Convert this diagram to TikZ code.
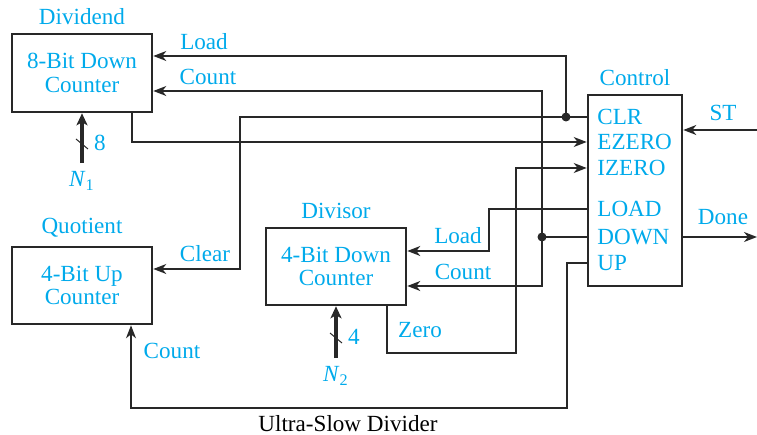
\documentclass[tikz,border=0pt]{standalone}
\usepackage{fontspec}
\setmainfont{Liberation Serif}
\usetikzlibrary{arrows.meta, positioning, calc}
\definecolor{SignalCyan}{RGB}{0,170,235}
\definecolor{WireGray}{RGB}{40,40,40}

\begin{document}
\begin{tikzpicture}[
    x=0.5bp, y=-0.5bp,
    font=\fontsize{11.6}{12}\selectfont,
    block/.style={draw=WireGray, line width=1.3bp, text=SignalCyan, align=center,
        minimum width=70bp, minimum height=39bp, inner sep=0pt},
    sig/.style={text=SignalCyan, inner sep=1bp},
    port/.style={text=SignalCyan, anchor=west, inner sep=0pt},
    wire/.style={draw=WireGray, line width=0.75bp},
    flow/.style={wire, -{Stealth[length=6.5bp, width=5bp, inset=2bp]}},
    bus/.style={draw=WireGray, line width=2bp, -{Stealth[length=6bp, width=5.5bp, inset=1.5bp]}},
    junction/.style={circle, fill=WireGray, inner sep=0pt, minimum size=4.5bp},
]
\useasboundingbox (0,0) rectangle (757,435);

\node[block] (div) at (82,73) {8-Bit Down\\Counter};
\node[block, minimum height=38.5bp] (quo) at (82,285.5) {4-Bit Up\\Counter};
\node[block, minimum height=38.5bp] (dsr) at (336,266.5) {4-Bit Down\\Counter};
\node[block, minimum width=47bp, minimum height=95.5bp] (ctrl) at (635,190.5) {};

\node[sig, above=3bp of div] (divname) {Dividend};
\node[sig, above=3bp of quo] (quoname) {Quotient};
\node[sig, above=3bp of dsr] (dsrname) {Divisor};
\node[sig, above=3bp of ctrl] (ctrlname) {Control};

\foreach \n/\t/\y in {clr/CLR/117, ezero/EZERO/142, izero/IZERO/168,
    load/LOAD/209, down/DOWN/237, up/UP/263}
    \node[port] (\n) at (597,\y) {\t};

\node[junction] (jclr) at (566,117) {};
\node[junction] (jdown) at (542,237) {};

% outputs of the control unit
\draw[flow] (ctrl.west |- clr) -| (240,269) -- (quo.east |- 0,269);
\draw[flow] (jclr.center) |- (div.east |- 0,56);
\draw[wire] (ctrl.west |- down) -- (jdown.center);
\draw[flow] (jdown.center) |- (div.east |- 0,91);
\draw[flow] (jdown.center) |- (dsr.east |- 0,286);
\draw[flow] (ctrl.west |- load) -| (489,251) -- (dsr.east |- 0,251);
\draw[flow] (ctrl.west |- up) -| (567,408) -| (quo.south -| 131,0);

% zero flags back to control
\draw[flow] (div.south -| 132,0) |- (ctrl.west |- ezero);
\draw[flow] (dsr.south -| 387,0) |- (516,353) |- (ctrl.west |- izero);

\coordinate (stin) at (757,130);
\coordinate (doneout) at (757,237);
\draw[flow] (stin) -- (ctrl.east |- stin);
\draw[flow] (ctrl.east |- down) -- (doneout);

% parallel inputs
\node[sig, inner sep=0pt] (n1) at (82,181) {\textit{N}\textsubscript{1}};
\node[sig, inner sep=0pt] (n2) at (336,376) {\textit{N}\textsubscript{2}};
\draw[bus] ([yshift=4bp]n1.north) -- (div.south);
\draw[bus] ([yshift=4bp]n2.north) -- (dsr.south);
\draw[wire, line width=0.5bp] (76,139) -- (88,149);
\draw[wire, line width=0.5bp] (330,333) -- (342,343);
\node[sig] (w1) at (100,143) {8};
\node[sig] (w2) at (354,337) {4};

\node[sig] (lddiv) at (204,42) {Load};
\node[sig] (ctdiv) at (208,77) {Count};
\node[sig] (clrq) at (205,254) {Clear};
\node[sig] (ctq) at (172,351) {Count};
\node[sig] (lddsr) at (458,236) {Load};
\node[sig] (ctdsr) at (463,272) {Count};
\node[sig] (zero) at (420,330) {Zero};
\node[sig] (st) at (723,113) {ST};
\node[sig] (done) at (723,217) {Done};

\node[text=black, inner sep=0pt, anchor=base] (title) at (348,432) {Ultra-Slow Divider};

\end{tikzpicture}
\end{document}
